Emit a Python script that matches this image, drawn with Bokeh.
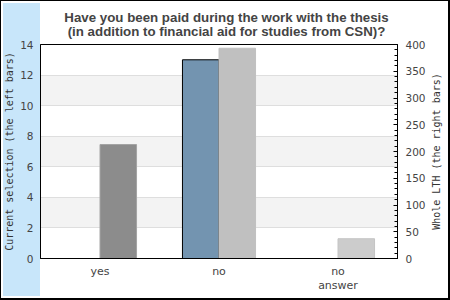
import json
import math
from bokeh.plotting import figure
from bokeh.models import (FactorRange, Range1d, LinearAxis, SingleIntervalTicker,
                          Label, ColumnDataSource, CustomJSTickFormatter)
from bokeh.transform import dodge
from bokeh.embed import file_html
from bokeh.resources import INLINE

# ---- data ----
categories = ["yes", "no", "no answer"]
category_labels = {"no answer": "no\nanswer"}
current_selection = [0, 13, 0]
whole_lth = [213, 393, 37]
current_color = "#7394b0"
lth_colors = ["#8c8c8c", "#c0c0c0", "#cccccc"]
lth_edge_colors = ["#a4a4a4", "#c0c0c0", "#c4c4c4"]
title_lines = ["Have you been paid during the work with the thesis",
               "(in addition to financial aid for studies from CSN)?"]
left_label = "Current selection (the left bars)"
right_label = "Whole LTH (the right bars)"

src = ColumnDataSource(dict(cat=categories, cur=current_selection, lth=whole_lth,
                            col=lth_colors, edge=lth_edge_colors))

p = figure(width=450, height=300, x_range=FactorRange(*categories),
           y_range=Range1d(0, 14), output_backend="svg", toolbar_location=None,
           min_border_left=40, min_border_right=53, min_border_top=44,
           min_border_bottom=42)
p.extra_y_ranges = {"lth": Range1d(0, 400)}

p.background_fill_color = "white"
p.border_fill_color = None
p.outline_line_color = "black"
p.outline_line_width = 1
p.styles = {
    "background": "linear-gradient(#c8e6fa,#c8e6fa) 3px 3px / 37px 293px no-repeat, #ffffff",
    "box-shadow": "inset 1px 1px 0 0 #000, inset -2px -2px 0 0 #000",
}

bw = 0.307
p.vbar(x=dodge("cat", -bw / 2, range=p.x_range), top="cur", width=bw, source=src,
       fill_color=current_color, line_color="black", line_width=1)
p.vbar(x=dodge("cat", bw / 2, range=p.x_range), top="lth", width=bw, source=src,
       y_range_name="lth", fill_color="col", line_color="edge", line_width=1)

# grid
p.xgrid.visible = False
p.ygrid.grid_line_color = "#dedede"
p.ygrid.band_fill_color = "#f3f3f3"
p.ygrid.band_fill_alpha = 1

# left axis
ya = p.yaxis[0]
ya.ticker = SingleIntervalTicker(interval=2, num_minor_ticks=0)
ya.axis_label = left_label
ya.axis_label_text_font = "DejaVu Sans Mono"
ya.axis_label_text_font_size = "10px"
ya.axis_label_text_font_style = "normal"
ya.axis_label_text_color = "#333333"
ya.axis_label_standoff = 2
ya.major_label_text_font = "DejaVu Sans"
ya.major_label_text_font_size = "10.5px"
ya.major_label_text_color = "#444444"
ya.major_label_standoff = 7
ya.major_tick_in = 0
ya.major_tick_out = 0
ya.minor_tick_in = 0
ya.minor_tick_out = 0
ya.major_tick_line_color = None
ya.minor_tick_line_color = None
ya.axis_line_color = "black"

# right axis
ra = LinearAxis(y_range_name="lth", ticker=SingleIntervalTicker(interval=50, num_minor_ticks=5))
ra.major_label_text_font = "DejaVu Sans"
ra.major_label_text_font_size = "10.5px"
ra.major_label_text_color = "#444444"
ra.major_label_standoff = 8
ra.major_tick_in = 4
ra.major_tick_out = 0
ra.minor_tick_in = 3
ra.minor_tick_out = 0
ra.major_tick_line_color = "black"
ra.minor_tick_line_color = "black"
ra.axis_line_color = "black"
p.add_layout(ra, "right")

# right axis title as a rotated label (reads bottom-to-top), in the right panel
rl = Label(x=436, y=151, x_units="canvas", y_units="canvas", text=right_label,
           angle=math.pi / 2, text_align="center", text_baseline="middle",
           text_font="DejaVu Sans Mono", text_font_size="10px", text_color="#333333")
p.add_layout(rl, "right")

# bottom axis with wrapped category names
xa = p.xaxis[0]
xa.formatter = CustomJSTickFormatter(
    code="const m = %s; return (tick in m) ? m[tick] : tick;" % json.dumps(category_labels))
xa.major_label_text_font = "DejaVu Sans"
xa.major_label_text_font_size = "11px"
xa.major_label_text_color = "#444444"
xa.major_label_text_line_height = 1.1
xa.major_label_standoff = 6
xa.major_tick_in = 0
xa.major_tick_out = 0
xa.minor_tick_in = 0
xa.minor_tick_out = 0
xa.major_tick_line_color = None
xa.minor_tick_line_color = None
xa.axis_line_color = "black"

# title: two lines, each centred on the canvas
for j, line in enumerate(title_lines):
    tl = Label(x=226, y=17 + 14 * j, x_units="canvas", y_units="canvas", text=line,
               text_align="center", text_baseline="alphabetic",
               text_font="Liberation Sans", text_font_style="bold",
               text_font_size="13.3px", text_color="#444444")
    p.add_layout(tl, "above")

open("out.html", "w").write(file_html(p, INLINE))
